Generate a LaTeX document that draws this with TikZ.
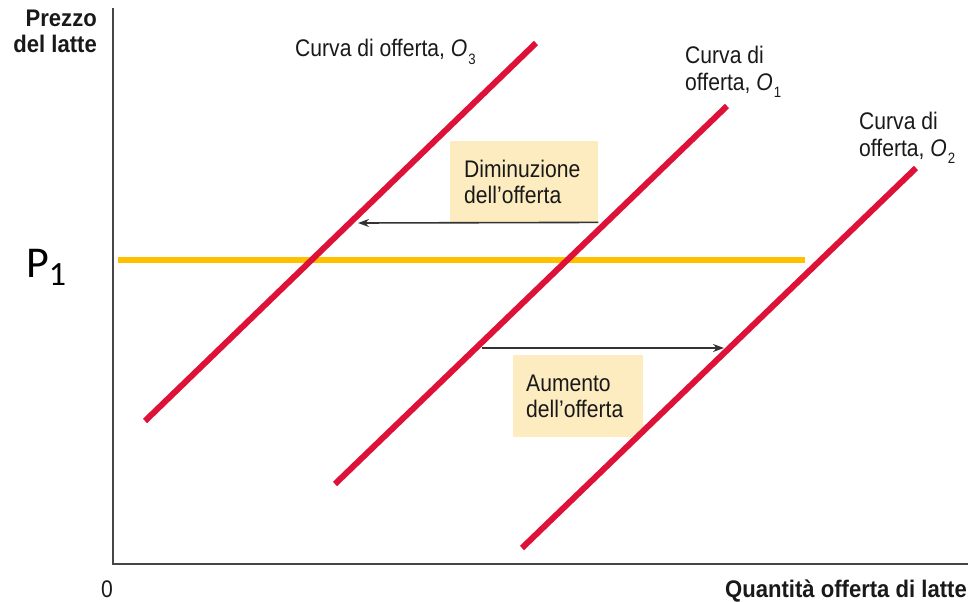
\documentclass[tikz,border=0pt]{standalone}
\usepackage{fontspec}
\setmainfont{Liberation Sans}[FakeStretch=0.88,BoldFeatures={FakeStretch=0.92}]
\newfontfamily\pfont{Carlito}
\usetikzlibrary{arrows.meta}
\definecolor{supred}{RGB}{222,18,56}
\definecolor{pgold}{RGB}{255,192,0}
\definecolor{notefill}{RGB}{253,236,192}
\definecolor{axisgray}{RGB}{70,70,70}
\newcommand{\curvesub}[1]{\textit{O}\kern1pt\raisebox{-7pt}{\fontsize{15}{15}\selectfont #1}}

\begin{document}
\begin{tikzpicture}[x=1pt,y=-1pt,>={Stealth[length=11pt,width=8pt]},
  curve/.style={draw=supred,line width=6pt},
  shiftarrow/.style={->,draw=black!80,line width=1.6pt},
  tag/.style={font=\fontsize{24}{27}\selectfont,align=left,inner sep=0pt,text=black!90},
  note/.style={tag,fill=notefill,anchor=north west,inner ysep=0pt,font=\fontsize{24}{26}\selectfont}]
 % \draw[help lines] (0,0) grid (969,602);
  \useasboundingbox (0,0) rectangle (969,602);
  % assi
  \coordinate (top)    at (113,8);
  \coordinate (origin) at (113,564);
  \coordinate (right)  at (968,564);
  \draw[axisgray,line width=2pt] (top) -- (origin) -- (right);
  % riquadri
  \node[note,inner xsep=14pt,text width=120pt,minimum height=81pt] (dim) at (450,141)
    {Diminuzione\\dell’offerta};
  \node[note,inner xsep=13pt,text width=104pt,minimum height=82pt] (aum) at (513,355)
    {Aumento\\dell’offerta};
  % prezzo P1
  \coordinate (p1a) at (118,260);
  \coordinate (p1b) at (805,260);
  \draw[pgold,line width=6pt] (p1a) -- (p1b);
  % curve di offerta
  \coordinate (o3a) at (145,421);  \coordinate (o3b) at (536,43);
  \coordinate (o1a) at (335,484);  \coordinate (o1b) at (727,106);
  \coordinate (o2a) at (522,548);  \coordinate (o2b) at (916,168);
  \draw[curve] (o3a) -- (o3b);
  \draw[curve] (o1a) -- (o1b);
  \draw[curve] (o2a) -- (o2b);
  % spostamenti
  \coordinate (dimend) at (358,223);
  \coordinate (aumstart) at (482,348);
  \coordinate (aumend) at (724,348);
  \draw[shiftarrow] (dim.south east) -- (dimend);
  \draw[shiftarrow] (aumstart) -- (aumend);
  % etichette
  \node[tag,anchor=base west] (l3) at (295,57) {Curva di offerta, \curvesub{3}};
  \node[tag,anchor=north west] (l1) at (685,46) {Curva di\\offerta, \curvesub{1}};
  \node[tag,anchor=north west] (l2) at (859,112) {Curva di\\offerta, \curvesub{2}};
  \node[tag,anchor=north east,align=right,font=\fontsize{24}{26}\selectfont\bfseries] (ylab) at (97,10)
    {Prezzo\\del latte};
  \node[tag,anchor=base east,font=\fontsize{24}{27}\selectfont\bfseries] (xlab) at (967,597)
    {Quantità offerta di latte};
  \node[tag] (zero) at (107,589) {0};
  \node[anchor=base west,inner sep=0pt] (p1) at (26,277)
    {\pfont\fontsize{44}{44}\selectfont P\raisebox{-8pt}{\fontsize{34}{34}\selectfont 1}};
 \end{tikzpicture}
\end{document}
